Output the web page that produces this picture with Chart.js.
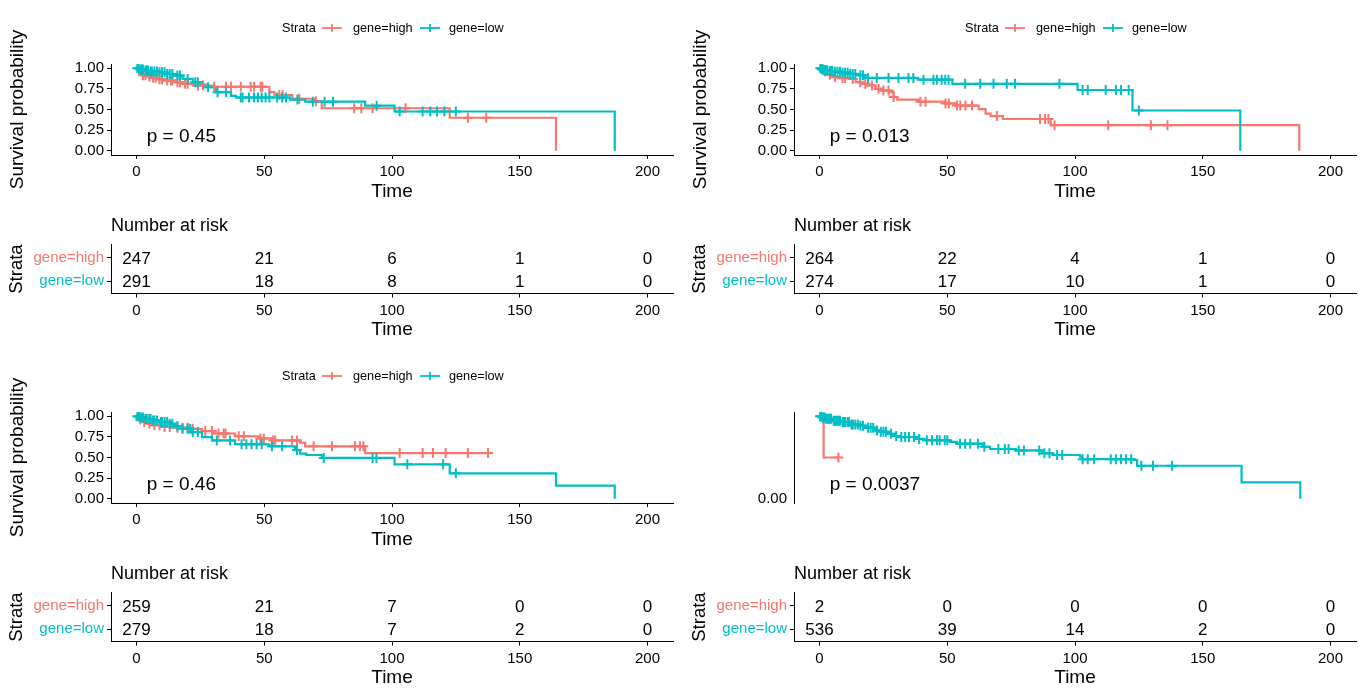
<!DOCTYPE html>
<html>
<head>
<meta charset="utf-8">
<script src="https://cdn.jsdelivr.net/npm/chart.js@4.4.1/dist/chart.umd.min.js"></script>
<style>
body { margin: 0; background: #fff; width: 1366px; height: 695px; overflow: hidden; position: relative; font-family: "Liberation Sans", Arial, sans-serif; }
canvas { position: absolute; }
.legend { position: absolute; font-size: 12.7px; color: #000; height: 16px; line-height: 16px; white-space: nowrap; }
.legend span, .legend svg { position: absolute; top: 0; }
</style>
</head>
<body>
<script>
const FONT = '"Liberation Sans", Arial, sans-serif';
const colors = ['#F8766D', '#00BFC4'];

const strata = ['gene=high', 'gene=low'];
const timeTicks = [0, 50, 100, 150, 200];
const survTicks = [0, 0.25, 0.5, 0.75, 1];
const survTickLabels = ['0.00', '0.25', '0.50', '0.75', '1.00'];

// panel 1 (top left)
const p1HighTime = [0, 0.5, 1, 2, 4, 6, 8.7, 11, 15, 18, 22, 29.5, 52, 54, 61, 69.5, 72.5, 122.6, 164.2];
const p1HighSurv = [1, 0.97, 0.94, 0.915, 0.9, 0.885, 0.865, 0.85, 0.83, 0.81, 0.79, 0.775, 0.71, 0.675, 0.63, 0.6, 0.515, 0.4, 0];
const p1HighCens = [2.5, 3.5, 5, 6.5, 7.5, 9, 10, 12, 13.5, 14, 16, 17, 19, 20, 24, 26, 30.4, 35, 37, 40.8, 44.7, 46, 48.6, 49.2, 55.9, 57.2, 63.7, 70.2, 85.2, 88, 92.4, 105.3, 129.7, 136.9];
const p1LowTime = [0, 1, 3, 5, 8.7, 12, 15, 18, 22, 25, 27, 31, 37, 39, 60, 66, 89.5, 101, 187.2];
const p1LowSurv = [1, 0.985, 0.97, 0.96, 0.95, 0.93, 0.91, 0.87, 0.83, 0.8, 0.77, 0.71, 0.665, 0.645, 0.62, 0.595, 0.546, 0.476, 0];
const p1LowCens = [0.3, 0.8, 1.5, 2, 2.5, 3.5, 4, 4.5, 5.5, 6, 7, 8, 9, 10, 11, 12, 13, 14, 16, 17, 20, 23, 24, 28, 31.7, 35, 40.8, 41.5, 44, 46, 47.5, 49, 50.5, 52, 55, 57, 58.5, 63, 69, 73.6, 76.9, 94, 103, 112, 115, 117.6, 120.5, 125];
const p1RiskHigh = [247, 21, 6, 1, 0];
const p1RiskLow = [291, 18, 8, 1, 0];

// panel 2 (top right)
const p2HighTime = [0, 1, 3, 5, 8, 11.5, 14.1, 16, 18.6, 21.9, 24, 27.1, 29, 30.4, 38.9, 49.3, 53.2, 62.3, 65, 67, 71.8, 90.5, 187.8];
const p2HighSurv = [1, 0.96, 0.92, 0.89, 0.88, 0.87, 0.83, 0.81, 0.79, 0.75, 0.73, 0.71, 0.65, 0.62, 0.595, 0.574, 0.548, 0.505, 0.45, 0.42, 0.385, 0.31, 0];
const p2HighCens = [2, 4, 6, 9, 10, 13, 15.9, 17.9, 20.5, 23.1, 25, 27, 29, 39.5, 41.5, 49.3, 50.6, 53.8, 55.1, 57.1, 59.7, 69.4, 86.3, 88.3, 89.6, 92, 113, 129.7, 136.2];
const p2LowTime = [0, 1, 2, 3.5, 6, 8.7, 12, 15, 17.8, 38.5, 52, 101, 122.5, 164.7];
const p2LowSurv = [1, 0.985, 0.975, 0.965, 0.955, 0.945, 0.93, 0.915, 0.882, 0.86, 0.81, 0.736, 0.488, 0];
const p2LowCens = [0.3, 0.7, 1, 1.5, 2, 2.5, 3, 4, 4.5, 5, 6, 7, 8, 9, 10, 11, 12, 13, 14, 16, 17, 19, 22.4, 27, 30.9, 34.8, 36.7, 40.7, 44.6, 45.9, 47.8, 49.2, 50.5, 57, 62.9, 68.1, 73.3, 76.5, 93.9, 103, 105, 112, 116, 118, 121, 125];
const p2RiskHigh = [264, 22, 4, 1, 0];
const p2RiskLow = [274, 17, 10, 1, 0];

// panel 3 (bottom left)
const p3HighTime = [0, 1, 2, 4, 6, 10, 15, 21, 25.6, 30, 38.6, 48, 53, 64, 66, 89.5, 137.6];
const p3HighSurv = [1, 0.96, 0.93, 0.91, 0.89, 0.87, 0.86, 0.845, 0.82, 0.79, 0.757, 0.73, 0.707, 0.68, 0.635, 0.553, 0.553];
const p3HighCens = [1.5, 3, 5, 7, 9, 11, 13, 16, 18, 20, 22, 26.9, 29.5, 32.1, 34.1, 34.8, 40, 42, 48.5, 49.8, 53.5, 54.3, 60.8, 62.8, 69.3, 76.5, 85.5, 87.5, 88.8, 103, 112, 116, 121, 129.7, 137.6];
const p3LowTime = [0, 1, 3, 6.1, 9, 12.6, 15, 17.8, 21.7, 25.6, 29.5, 38.6, 52, 62, 64, 66.5, 72.5, 101, 122.6, 164.2, 187.2];
const p3LowSurv = [1, 0.985, 0.965, 0.948, 0.93, 0.907, 0.88, 0.847, 0.807, 0.747, 0.707, 0.66, 0.635, 0.59, 0.546, 0.53, 0.495, 0.418, 0.309, 0.16, 0];
const p3LowCens = [0.3, 0.8, 1.3, 2, 2.5, 3.5, 4, 5, 5.5, 6.5, 7, 8, 9.5, 10, 11, 12, 13, 14, 16, 18, 20, 21, 22, 24, 31.4, 36.6, 41.1, 43, 45, 47, 49, 53, 57, 62.8, 73.3, 92.4, 93.9, 106, 120, 125];
const p3RiskHigh = [259, 21, 7, 0, 0];
const p3RiskLow = [279, 18, 7, 2, 0];

// panel 4 (bottom right)
const p4HighTime = [0, 1.6, 7.4];
const p4HighSurv = [1, 0.5, 0.5];
const p4HighCens = [7.4];
const p4LowTime = [0, 1, 2.2, 5, 8.7, 12.2, 15.2, 18, 21.7, 23.7, 27, 29.5, 30.9, 38, 41, 51, 53.9, 64, 66.8, 76.9, 87, 91.2, 102, 102.7, 122.8, 124.3, 165.2, 188.2];
const p4LowSurv = [1, 0.985, 0.968, 0.945, 0.928, 0.9, 0.885, 0.86, 0.827, 0.81, 0.787, 0.76, 0.747, 0.725, 0.71, 0.69, 0.667, 0.63, 0.603, 0.586, 0.55, 0.53, 0.51, 0.48, 0.47, 0.4, 0.2, 0];
const p4LowCens = [0.2, 0.5, 0.8, 1.2, 1.6, 2, 2.6, 3, 3.5, 4, 4.5, 5.5, 6, 6.5, 7, 7.5, 8, 9, 9.5, 10, 11, 11.5, 12.5, 13, 14, 15, 16, 17, 19, 20, 21, 22.5, 24, 25, 26, 28, 30, 32, 33.5, 35, 37, 39, 42, 44, 46, 47, 49, 50, 55, 57, 59, 62, 64.5, 70, 72.5, 74, 78, 80, 86, 88, 90, 93, 95, 103, 105, 107.5, 114, 116, 118, 120, 122, 126, 130.5, 138];
const p4RiskHigh = [2, 0, 0, 0, 0];
const p4RiskLow = [536, 39, 14, 2, 0];

const pvals = ['p = 0.45', 'p = 0.013', 'p = 0.46', 'p = 0.0037'];
const pvalAt = {x: 4, y: 0.17};

const panels = [
  {ox: 0, oy: 0, high: [p1HighTime, p1HighSurv, p1HighCens], low: [p1LowTime, p1LowSurv, p1LowCens], risk: [p1RiskHigh, p1RiskLow], full: true},
  {ox: 683, oy: 0, high: [p2HighTime, p2HighSurv, p2HighCens], low: [p2LowTime, p2LowSurv, p2LowCens], risk: [p2RiskHigh, p2RiskLow], full: true},
  {ox: 0, oy: 348, high: [p3HighTime, p3HighSurv, p3HighCens], low: [p3LowTime, p3LowSurv, p3LowCens], risk: [p3RiskHigh, p3RiskLow], full: true},
  {ox: 683, oy: 348, high: [p4HighTime, p4HighSurv, p4HighCens], low: [p4LowTime, p4LowSurv, p4LowCens], risk: [p4RiskHigh, p4RiskLow], full: false},
];

function survAt(times, surv, t) {
  let s = surv[0];
  for (let i = 0; i < times.length; i++) {
    if (times[i] <= t) s = surv[i];
  }
  return s;
}

const pvalText = {
  id: 'pvalText',
  afterDatasetsDraw(chart, args, opts) {
    const { ctx, scales: { x, y } } = chart;
    ctx.save();
    ctx.font = '19px ' + FONT;
    ctx.fillStyle = '#000';
    ctx.textAlign = 'left';
    ctx.textBaseline = 'middle';
    ctx.fillText(opts.text, x.getPixelForValue(opts.x), y.getPixelForValue(opts.y));
    ctx.restore();
  },
};

// numbers at risk, written where the library puts each (time, row) point
const riskText = {
  id: 'riskText',
  afterDatasetsDraw(chart) {
    const { ctx } = chart;
    ctx.save();
    ctx.font = '17px ' + FONT;
    ctx.fillStyle = '#000';
    ctx.textAlign = 'center';
    ctx.textBaseline = 'middle';
    chart.data.datasets.forEach((ds, i) => {
      chart.getDatasetMeta(i).data.forEach((pt, j) => {
        ctx.fillText(String(ds.data[j].n), pt.x, pt.y + 1.5);
      });
    });
    ctx.restore();
  },
};

function timeAxis(height, titleBottom, show) {
  return {
    type: 'linear',
    min: -10,
    max: 210,
    afterBuildTicks: (s) => { s.ticks = timeTicks.map((v) => ({ value: v })); },
    ticks: { display: show, font: { family: FONT, size: 15 }, color: '#000', padding: 4, maxRotation: 0, autoSkip: false, callback: (v) => String(v) },
    grid: { display: show, drawOnChartArea: false, drawTicks: true, tickLength: 4, color: '#000', lineWidth: 1 },
    border: { display: show, color: '#000', width: 1 },
    title: { display: show, text: 'Time', color: '#000', font: { family: FONT, size: 19 }, padding: { top: 0, bottom: titleBottom } },
    afterFit: (s) => { s.height = height; },
  };
}

function addCanvas(left, top, w, h) {
  const c = document.createElement('canvas');
  c.width = w;
  c.height = h;
  c.style.left = left + 'px';
  c.style.top = top + 'px';
  c.style.width = w + 'px';
  c.style.height = h + 'px';
  document.body.appendChild(c);
  return c;
}

function addLegend(ox, oy) {
  const div = document.createElement('div');
  div.className = 'legend';
  div.style.left = ox + 'px';
  div.style.top = (oy + 20) + 'px';
  const icon = (col, left) =>
    `<svg width="20" height="16" style="left:${left}px"><line x1="0" y1="8" x2="20" y2="8" stroke="${col}" stroke-width="1.8"/>` +
    `<line x1="10" y1="4" x2="10" y2="12" stroke="${col}" stroke-width="1.8"/></svg>`;
  div.innerHTML =
    `<span style="left:282px">Strata</span>` +
    icon(colors[0], 322) + `<span style="left:353px">${strata[0]}</span>` +
    icon(colors[1], 420) + `<span style="left:449px">${strata[1]}</span>`;
  document.body.appendChild(div);
}

panels.forEach((p, k) => {
  const groups = [p.high, p.low];
  const lineSets = groups.map((g, i) => ({
    data: g[0].map((t, j) => ({ x: t, y: g[1][j] })),
    showLine: true,
    stepped: true,
    borderColor: colors[i],
    borderWidth: 2.2,
    pointRadius: 0,
    fill: false,
    order: 4 - i,
  }));
  const censSets = groups.map((g, i) => ({
    data: g[2].map((t) => ({ x: t, y: survAt(g[0], g[1], t) })),
    showLine: false,
    pointStyle: 'cross',
    pointRadius: 5,
    pointBorderWidth: 2,
    borderColor: colors[i],
    backgroundColor: colors[i],
    order: 2 - i,
  }));

  new Chart(addCanvas(p.ox, p.oy, 683, 205), {
    type: 'scatter',
    data: { datasets: lineSets.concat(censSets) },
    options: {
      responsive: false,
      animation: false,
      devicePixelRatio: 1,
      layout: { padding: { top: 64, right: 10, left: 0, bottom: 0 } },
      plugins: {
        legend: { display: false },
        tooltip: { enabled: false },
        pvalText: { text: pvals[k], x: pvalAt.x, y: pvalAt.y },
      },
      scales: {
        x: timeAxis(50, 2, p.full),
        y: {
          type: 'linear',
          min: -0.05,
          max: 1.05,
          afterBuildTicks: (s) => { s.ticks = survTicks.map((v) => ({ value: v })); },
          ticks: {
            font: { family: FONT, size: 15 },
            color: '#000',
            padding: 3,
            callback: (v, i) => (p.full || v === 0 ? survTickLabels[i] : ''),
          },
          grid: { display: true, drawOnChartArea: false, drawTicks: true, tickLength: 4, color: p.full ? '#000' : 'rgba(0,0,0,0)', lineWidth: 1 },
          border: { display: true, color: '#000', width: 1 },
          title: { display: p.full, text: 'Survival probability', color: '#000', font: { family: FONT, size: 19 }, padding: { top: 6, bottom: 0 } },
          afterFit: (s) => { s.width = 111; },
        },
      },
    },
    plugins: [pvalText],
  });

  if (p.full) addLegend(p.ox, p.oy);

  new Chart(addCanvas(p.ox, p.oy + 205, 683, 142), {
    type: 'scatter',
    data: {
      datasets: strata.map((name, r) => ({
        label: name,
        data: timeTicks.map((t, j) => ({ x: t, y: r, n: p.risk[r][j] })),
        pointRadius: 0,
        showLine: false,
      })),
    },
    options: {
      responsive: false,
      animation: false,
      devicePixelRatio: 1,
      layout: { padding: { top: 0, right: 10, left: 0, bottom: 0 } },
      plugins: {
        legend: { display: false },
        tooltip: { enabled: false },
        title: {
          display: true,
          text: 'Number at risk',
          align: 'start',
          fullSize: false,
          color: '#000',
          font: { family: FONT, size: 18, weight: 'normal' },
          padding: { top: 10, bottom: 8 },
        },
      },
      scales: {
        x: timeAxis(53.5, 6, true),
        y: {
          type: 'linear',
          min: -0.57,
          max: 1.53,
          reverse: true,
          afterBuildTicks: (s) => { s.ticks = strata.map((_, i) => ({ value: i })); },
          ticks: {
            font: { family: FONT, size: 15 },
            color: (c) => colors[c.index],
            padding: 3,
            callback: (v, i) => strata[i],
          },
          grid: { display: true, drawOnChartArea: false, drawTicks: true, tickLength: 4, color: '#000', lineWidth: 1 },
          border: { display: true, color: '#000', width: 1 },
          title: { display: true, text: 'Strata', color: '#000', font: { family: FONT, size: 18.5 }, padding: { top: 6, bottom: 0 } },
          afterFit: (s) => { s.width = 111; },
        },
      },
    },
    plugins: [riskText],
  });
});
</script>
</body>
</html>
